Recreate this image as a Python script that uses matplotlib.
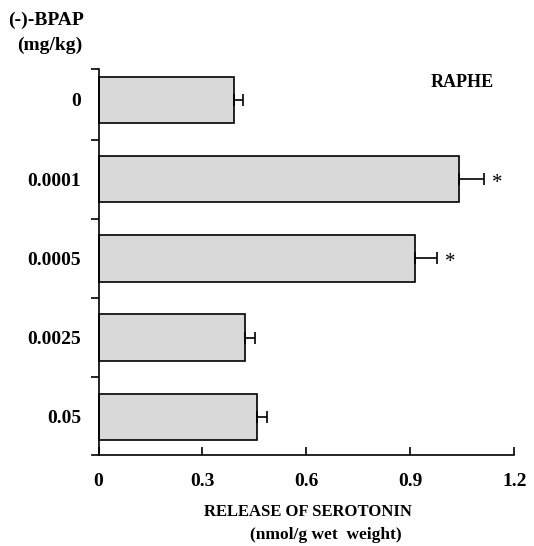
import matplotlib
matplotlib.use("Agg")
import matplotlib.pyplot as plt
from matplotlib.ticker import FixedLocator

# ---- data ----
doses = ["0", "0.0001", "0.0005", "0.0025", "0.05"]
release = [0.392, 1.039, 0.913, 0.422, 0.458]
sem = [0.026, 0.074, 0.065, 0.029, 0.029]
signif = ["", "*", "*", "", ""]
xticks = [0, 0.3, 0.6, 0.9, 1.2]

plt.rcParams["font.family"] = ["Liberation Serif", "DejaVu Serif"]

fig = plt.figure(figsize=(5.34, 5.46), dpi=100)
ax = fig.add_axes([0.1715, 0.1667, 0.7916, 0.7069])

ypos = list(range(len(doses)))
ax.barh(ypos, release, height=0.588, color="#d9d9d9", edgecolor="black",
        linewidth=1.2, zorder=2)
ax.errorbar(release, ypos, xerr=[[0] * len(sem), sem], fmt="none",
            ecolor="black", elinewidth=1.2, capsize=4.5, capthick=1.2, zorder=3)

# significance marks
for y, v, e, s in zip(ypos, release, sem, signif):
    if s:
        ax.annotate(s, (v + e + 0.037, y), xytext=(0, -3), textcoords="offset points",
                    ha="center", va="center", fontsize=15)

ax.set_xlim(-0.02, 1.2)
ax.set_ylim(4.482, -0.391)

# spines
ax.spines["top"].set_visible(False)
ax.spines["right"].set_visible(False)
ax.spines["left"].set_position(("data", 0))
ax.spines["left"].set_linewidth(1.2)
ax.spines["bottom"].set_linewidth(1.2)

# x ticks
ax.set_xticks(xticks)
ax.set_xticklabels(["0", "0.3", "0.6", "0.9", "1.2"], fontweight="bold", fontsize=14)
ax.tick_params(axis="x", direction="in", length=6, width=1.2, pad=13)

# y ticks: labels at bars, tick marks between them
ax.set_yticks(ypos)
ax.set_yticklabels(doses, fontweight="bold", fontsize=14)
ax.tick_params(axis="y", which="major", length=0, pad=12.5)
ax.yaxis.set_minor_locator(FixedLocator([-0.391, 0.5, 1.5, 2.5, 3.5]))
ax.tick_params(axis="y", which="minor", direction="out", length=6, width=1.2)

ax.text(0.877, 0.966, "RAPHE", transform=ax.transAxes, ha="center", va="center",
        fontsize=13, fontweight="bold")

fig.text(46 / 534, 1 - 20 / 546, "(-)-BPAP", ha="center", va="center",
         fontsize=14, fontweight="bold")
fig.text(49.5 / 534, 1 - 45 / 546, "(mg/kg)", ha="center", va="center",
         fontsize=14, fontweight="bold")

fig.text(308 / 534, 1 - 512 / 546, "RELEASE OF SEROTONIN", ha="center", va="center",
         fontsize=12, fontweight="bold")
fig.text(325.5 / 534, 1 - 535 / 546, "(nmol/g wet  weight)", ha="center", va="center",
         fontsize=12.5, fontweight="bold")

fig.savefig("out.png", dpi=100)
